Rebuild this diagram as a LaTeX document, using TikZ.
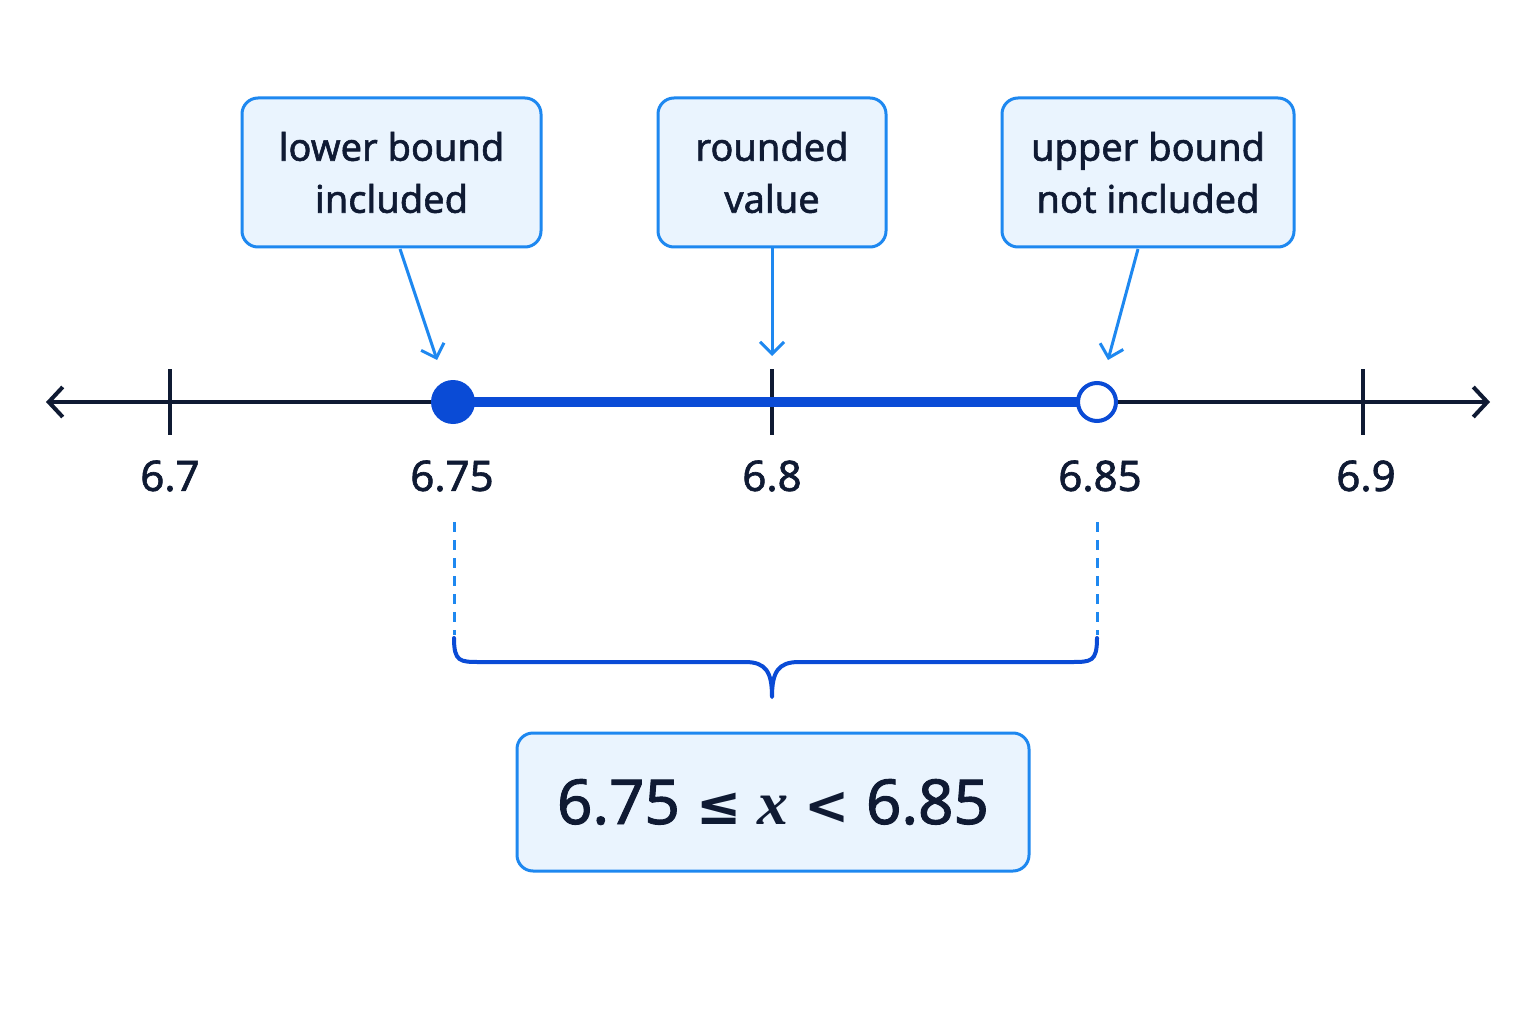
\documentclass[tikz,border=0pt]{standalone}
\usepackage{fontspec}
\setmainfont{Noto Sans}[FakeBold=1.5,AutoFakeBold=1.5]
\newfontfamily\symf{DejaVu Sans}
\newfontfamily\serifit{Liberation Serif}
\usetikzlibrary{arrows.meta}
\definecolor{navy}{HTML}{0F1A33}
\definecolor{deep}{HTML}{0A4BD6}
\definecolor{lblue}{HTML}{1E88F0}
\definecolor{boxfill}{HTML}{EAF4FE}
\begin{document}
\begin{tikzpicture}[x=1pt,y=-1pt,
  box/.style={draw=lblue,line width=3pt,fill=boxfill,rounded corners=16pt,align=center,font=\fontsize{38}{52}\selectfont,text=navy,inner sep=0pt},
  lab/.style={font=\fontsize{42}{48}\selectfont,text=navy},
  tick/.style={draw=navy,line width=3.5pt},
  pointer/.style={draw=lblue,line width=3pt,-{Straight Barb[length=12pt,width=24pt,line width=3pt]}},
  guide/.style={draw=lblue,line width=3pt,dash pattern=on 10pt off 8pt}]
\useasboundingbox (0,0) rectangle (1536,1024);
\fill[white] (0,0) rectangle (1536,1024);
% axis
\coordinate (L) at (46,402); \coordinate (R) at (1490,402);
\draw[navy,line width=4pt,{Straight Barb[length=14pt,width=30pt,line width=4pt]}-{Straight Barb[length=14pt,width=30pt,line width=4pt]}] (L) -- (R);
\foreach \x in {170,772,1363}{\draw[tick] (\x,369) -- (\x,435);}
\coordinate (lo) at (453,402); \coordinate (hi) at (1097,402);
\draw[deep,line width=10pt] (lo) -- (hi);
\node[circle,fill=deep,minimum size=44pt,inner sep=0pt] (dot1) at (lo) {};
\node[circle,fill=white,draw=deep,line width=4pt,minimum size=38pt,inner sep=0pt] (dot2) at (hi) {};
% labels
\node[lab] (l1) at (170,476) {\bfseries 6.7};
\node[lab] (l2) at (452,476) {\bfseries 6.75};
\node[lab] (l3) at (772,476) {\bfseries 6.8};
\node[lab] (l4) at (1100,476) {\bfseries 6.85};
\node[lab] (l5) at (1366,476) {\bfseries 6.9};
% boxes
\node[box,minimum width=299pt,minimum height=149pt] (b1) at (391.5,172.5) {\bfseries lower bound\\\bfseries included};
\node[box,minimum width=228pt,minimum height=149pt] (b2) at (772,172.5) {\bfseries rounded\\\bfseries value};
\node[box,minimum width=292pt,minimum height=149pt] (b3) at (1148,172.5) {\bfseries upper bound\\\bfseries not included};
\coordinate (t1) at (437,360); \coordinate (t2) at (772,356); \coordinate (t3) at (1108,360);
\draw[pointer] (400,249) -- (t1);
\draw[pointer] (b2.south) -- (t2);
\draw[pointer] (1138,249) -- (t3);
% guides
\coordinate (g1) at (454,522); \coordinate (g2) at (1097,522);
\draw[guide] (g1) -- (454,635);
\draw[guide] (g2) -- (1097,635);
% brace
\coordinate (bt) at (772,697);
\draw[deep,line width=4pt,line cap=round,line join=round]
 (454,638) .. controls (454,662) and (460,662) .. (480,662) -- (745,662)
 .. controls (766,662) and (772,672) .. (bt)
 .. controls (772,672) and (778,662) .. (799,662) -- (1071,662)
 .. controls (1091,662) and (1097,662) .. (1097,638);
% formula
\node[box,minimum width=512pt,minimum height=138pt,font=\fontsize{62}{66}\selectfont] (f) at (773,802)
 {\bfseries 6.75 {\symf\fontsize{54}{60}\selectfont ≤} {\serifit\itshape x} {\symf\fontsize{54}{60}\selectfont <} 6.85};
\end{tikzpicture}
\end{document}
